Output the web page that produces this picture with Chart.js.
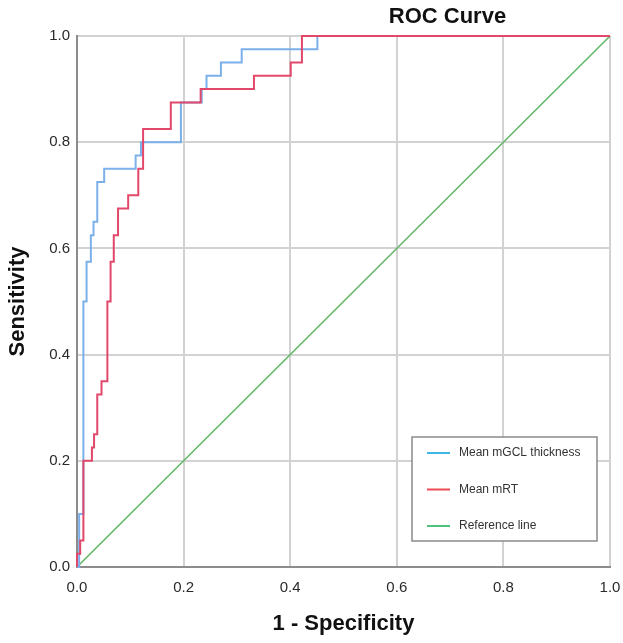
<!DOCTYPE html>
<html>
<head>
<meta charset="utf-8">
<script src="https://cdn.jsdelivr.net/npm/chart.js@4.4.0/dist/chart.umd.min.js"></script>
<style>
  html, body { margin: 0; padding: 0; background: #fff; }
  #grafica { display: block; }
</style>
</head>
<body>
<canvas id="grafica" width="623" height="643"></canvas>
<script>
// Curva ROC: 1 - especificidad (x) y sensibilidad (y), esquinas de cada escalón
const gclX = [0, 0.004, 0.012, 0.018, 0.026, 0.031, 0.038, 0.051, 0.110, 0.120, 0.195, 0.234, 0.243, 0.270, 0.309, 0.451, 1.0];
const gclY = [0, 0.100, 0.500, 0.575, 0.625, 0.650, 0.725, 0.750, 0.775, 0.800, 0.875, 0.900, 0.925, 0.950, 0.975, 1.000, 1.0];

const mrtX = [0, 0, 0.006, 0.012, 0.028, 0.032, 0.038, 0.046, 0.057, 0.063, 0.069, 0.077, 0.096, 0.115, 0.124, 0.176, 0.232, 0.332, 0.401, 0.422, 1.0];
const mrtY = [0, 0.025, 0.050, 0.200, 0.225, 0.250, 0.325, 0.350, 0.500, 0.575, 0.625, 0.675, 0.700, 0.750, 0.825, 0.875, 0.900, 0.925, 0.950, 1.000, 1.0];

const refX = [0, 1];
const refY = [0, 1];

const etiquetas = ['Mean mGCL thickness', 'Mean mRT', 'Reference line'];
const colores = ['#7cb0ea', '#e2486a', '#62b866'];
const coloresLeyenda = ['#3fb6e8', '#ee4a55', '#4cc27a'];

const titulo = 'ROC Curve';
const tituloX = '1 - Specificity';
const tituloY = 'Sensitivity';

function puntos(X, Y) {
  return X.map((xi, i) => ({ x: xi, y: Y[i] }));
}

// Título arriba a la derecha, como en el gráfico de SPSS
const pluginTitulo = {
  id: 'tituloRoc',
  afterDraw(chart) {
    const { ctx, chartArea } = chart;
    ctx.save();
    ctx.font = 'bold 22px "Liberation Sans", Arial, sans-serif';
    ctx.fillStyle = '#111';
    ctx.textAlign = 'center';
    ctx.textBaseline = 'alphabetic';
    const cx = chartArea.left + 0.695 * (chartArea.right - chartArea.left);
    ctx.fillText(titulo, cx, chartArea.top - 13);
    ctx.restore();
  }
};

// Leyenda dentro del área del gráfico (abajo a la derecha)
const pluginLeyenda = {
  id: 'leyendaRoc',
  afterDraw(chart) {
    const { ctx, chartArea } = chart;
    const ancho = 185, alto = 104;
    const x0 = chartArea.right - 13 - ancho;
    const y0 = chartArea.bottom - 26 - alto;
    ctx.save();
    ctx.fillStyle = '#fff';
    ctx.fillRect(x0, y0, ancho, alto);
    ctx.strokeStyle = '#8a8a8a';
    ctx.lineWidth = 1.5;
    ctx.strokeRect(x0, y0, ancho, alto);
    ctx.font = '12px "Liberation Sans", Arial, sans-serif';
    ctx.textBaseline = 'middle';
    ctx.textAlign = 'left';
    etiquetas.forEach((txt, i) => {
      const yy = y0 + 16 + i * 36.5;
      ctx.strokeStyle = coloresLeyenda[i];
      ctx.lineWidth = 2;
      ctx.beginPath();
      ctx.moveTo(x0 + 15, yy);
      ctx.lineTo(x0 + 38, yy);
      ctx.stroke();
      ctx.fillStyle = '#333';
      ctx.fillText(txt, x0 + 47, yy);
    });
    ctx.restore();
  }
};

const ctx = document.getElementById('grafica').getContext('2d');
const chart = new Chart(ctx, {
  type: 'line',
  data: {
    datasets: [
      {
        label: etiquetas[2],
        data: puntos(refX, refY),
        borderColor: colores[2],
        borderWidth: 1.6,
        pointRadius: 0,
        fill: false,
        clip: false,
        order: 2
      },
      {
        label: etiquetas[0],
        data: puntos(gclX, gclY),
        borderColor: colores[0],
        borderWidth: 2,
        pointRadius: 0,
        stepped: 'before',
        fill: false,
        clip: false,
        order: 1
      },
      {
        label: etiquetas[1],
        data: puntos(mrtX, mrtY),
        borderColor: colores[1],
        borderWidth: 2,
        pointRadius: 0,
        stepped: 'before',
        fill: false,
        clip: false,
        order: 0
      }
    ]
  },
  options: {
    responsive: false,
    animation: false,
    layout: { padding: { top: 36, right: 13, left: 0, bottom: 0 } },
    plugins: {
      legend: { display: false },
      tooltip: { enabled: false },
      title: { display: false }
    },
    scales: {
      x: {
        type: 'linear',
        min: 0,
        max: 1,
        afterFit(scale) {
          scale.height = 76;
          // que la etiqueta 1.0 no encoja el área del gráfico
          scale.paddingLeft = 0;
          scale.paddingRight = 0;
        },
        ticks: {
          stepSize: 0.2,
          padding: 12,
          color: '#2a2a2a',
          font: { size: 15, family: '"Liberation Sans", Arial, sans-serif' },
          callback: v => v.toFixed(1)
        },
        grid: { color: '#d2d2d2', lineWidth: 2, drawTicks: false },
        border: { color: '#8c8c8c', width: 2 },
        title: {
          display: true,
          text: tituloX,
          color: '#111',
          padding: { top: 0, bottom: 6 },
          font: { size: 22, weight: 'bold', family: '"Liberation Sans", Arial, sans-serif' }
        }
      },
      y: {
        type: 'linear',
        min: 0,
        max: 1,
        afterFit(scale) {
          scale.width = 77;
          scale.paddingTop = 0;
          scale.paddingBottom = 0;
        },
        ticks: {
          stepSize: 0.2,
          padding: 7,
          color: '#2a2a2a',
          font: { size: 15, family: '"Liberation Sans", Arial, sans-serif' },
          callback: v => v.toFixed(1)
        },
        grid: { color: '#d2d2d2', lineWidth: 2, drawTicks: false },
        border: { color: '#8c8c8c', width: 2 },
        title: {
          display: true,
          text: tituloY,
          color: '#111',
          padding: { top: 5, bottom: 0 },
          font: { size: 22, weight: 'bold', family: '"Liberation Sans", Arial, sans-serif' }
        }
      }
    }
  },
  plugins: [pluginTitulo, pluginLeyenda]
});
</script>
</body>
</html>
